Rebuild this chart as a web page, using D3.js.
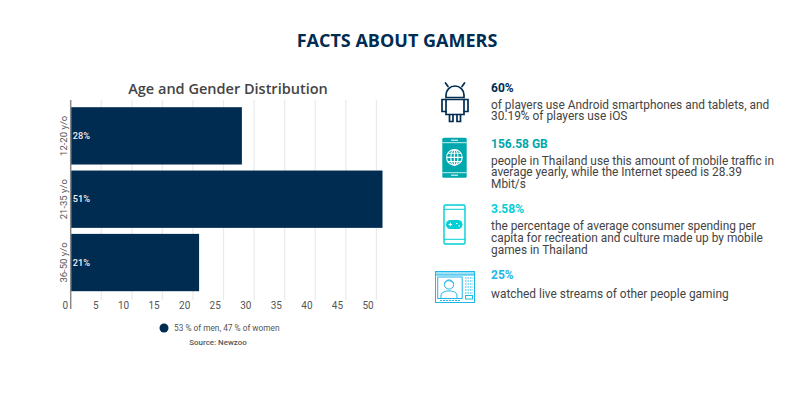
<!DOCTYPE html>
<html>
<head>
<meta charset="utf-8">
<script src="https://cdn.jsdelivr.net/npm/d3@7"></script>
<style>
  html, body { margin: 0; padding: 0; background: #fff; }
  svg { display: block; }
  text { font-family: Roboto, sans-serif; }
</style>
</head>
<body>
<svg id="chart" width="800" height="416"></svg>
<script>
const ageGroups = ["12-20 y/o", "21-35 y/o", "36-50 y/o"];
const shares = [28, 51, 21];
const shareLabels = ["28%", "51%", "21%"];
const xTicks = [0, 5, 10, 15, 20, 25, 30, 35, 40, 45, 50];
const factHeads = ["60%", "156.58 GB", "3.58%", "25%"];
const factColors = ["#002c52", "#00a7ad", "#00cfd8", "#1fb6e8"];
const factLines = [
  ["of players use Android smartphones and tablets, and", "30.19% of players use iOS"],
  ["people in Thailand use this amount of mobile traffic in", "average yearly, while the Internet speed is 28.39", "Mbit/s"],
  ["the percentage of average consumer spending per", "capita for recreation and culture made up by mobile", "games in Thailand"],
  ["watched live streams of other people gaming"]
];

const navy = "#002c52";
const svg = d3.select("#chart");

svg.append("text")
  .attr("x", 397).attr("y", 47)
  .attr("text-anchor", "middle")
  .attr("font-size", 18).attr("font-weight", 700)
  .style("font-family", "'Open Sans', sans-serif")
  .attr("fill", navy)
  .text("FACTS ABOUT GAMERS");

// bar chart
const x = d3.scaleLinear().domain([0, 51]).range([70.7, 382.5]);
const y = d3.scaleBand().domain(ageGroups).range([100.7, 297.7]).paddingInner(0.095).paddingOuter(0.1026);

svg.append("text")
  .attr("x", 228).attr("y", 94)
  .attr("text-anchor", "middle")
  .attr("font-size", 14.5).attr("font-weight", 600)
  .style("font-family", "'Open Sans', sans-serif")
  .attr("fill", "#444")
  .text("Age and Gender Distribution");

svg.append("g").selectAll("line")
  .data(xTicks.slice(1))
  .join("line")
  .attr("x1", d => x(d)).attr("x2", d => x(d))
  .attr("y1", 100).attr("y2", 300)
  .attr("stroke", "#eaeaea").attr("stroke-width", 1.2);

const rows = ageGroups.map((g, i) => ({ g, v: shares[i], label: shareLabels[i] }));

svg.append("g").selectAll("rect")
  .data(rows)
  .join("rect")
  .attr("x", x(0))
  .attr("y", d => y(d.g))
  .attr("width", d => x(d.v) - x(0))
  .attr("height", y.bandwidth())
  .attr("fill", navy);

svg.append("g").selectAll("text")
  .data(rows)
  .join("text")
  .attr("x", x(0) + 2)
  .attr("y", d => y(d.g) + y.bandwidth() / 2 + 3)
  .attr("font-size", 9.2).attr("font-weight", 500)
  .attr("fill", "#f2f2f2")
  .text(d => d.label);

// axis line runs a bit past the plot, through the tick labels
svg.append("line")
  .attr("x1", x(0)).attr("x2", x(0))
  .attr("y1", 100).attr("y2", 309)
  .attr("stroke", "#888").attr("stroke-width", 1.5);

svg.append("g").selectAll("text")
  .data(xTicks)
  .join("text")
  .attr("x", d => x(d) - 2.7)
  .attr("y", 308.5)
  .attr("text-anchor", "end")
  .attr("font-size", 10)
  .attr("fill", "#555")
  .text(d => d);

svg.append("g").selectAll("text")
  .data(ageGroups)
  .join("text")
  .attr("transform", d => `translate(66.5,${y(d) + y.bandwidth() / 2}) rotate(-90)`)
  .attr("text-anchor", "middle")
  .attr("font-size", 9.5)
  .attr("fill", "#555")
  .text(d => d);

// legend
svg.append("circle").attr("cx", 164).attr("cy", 328).attr("r", 4.5).attr("fill", navy);
svg.append("text").attr("x", 174).attr("y", 331)
  .attr("font-size", 8.3).attr("fill", "#555")
  .text("53 % of men, 47 % of women");
svg.append("text").attr("x", 218).attr("y", 345)
  .attr("text-anchor", "middle")
  .attr("font-size", 7.9).attr("font-weight", 500).attr("fill", "#555")
  .text("Source: Newzoo");

// right column
const headY = [91.5, 147.5, 213, 279];
const bodyOffset = [17, 17, 17, 19];
factHeads.forEach((h, i) => {
  svg.append("text").attr("x", 491).attr("y", headY[i])
    .attr("font-size", 12).attr("font-weight", 700)
    .attr("fill", factColors[i])
    .text(h);
  svg.append("text").attr("y", headY[i] + bodyOffset[i])
    .attr("font-size", 11.9)
    .attr("fill", "#444")
    .selectAll("tspan")
    .data(factLines[i])
    .join("tspan")
    .attr("x", 491)
    .attr("dy", (d, j) => j ? 11.8 : 0)
    .text(d => d);
});

// android icon
const droid = svg.append("g").attr("fill", "none").attr("stroke", navy)
  .attr("stroke-width", 1.7).attr("stroke-linecap", "round");
droid.append("path").attr("d", "M446 97.5v-2.5a9 9 0 0 1 18 0v2.5z");
droid.append("path").attr("d", "M448 86.5l-2.5-3.5M462 86.5l2.5-3.5");
droid.append("path").attr("d", "M446 99.5h18v15h-18z");
droid.append("path").attr("d", "M446 99.5h-4v12h4M464 99.5h4v12h-4");
droid.append("path").attr("d", "M449.5 114.5v7h3.5v-7M457 114.5v7h3.5v-7");

// phone with globe
const teal = "#00a7ad";
const phone = svg.append("g");
phone.append("rect").attr("x", 442.3).attr("y", 137.7).attr("width", 24.4).attr("height", 40).attr("rx", 1.5).attr("fill", teal);
phone.append("path").attr("d", "M442.3 142.7h24.4M442.3 172.7h24.4").attr("stroke", "#fff").attr("stroke-width", 0.8);
phone.append("path").attr("d", "M451 140.2h7M451 175.2h7").attr("stroke", "#fff").attr("stroke-width", 1);
const globe = phone.append("g").attr("fill", "none").attr("stroke", "#fff").attr("stroke-width", 1.1);
globe.append("circle").attr("cx", 454.4).attr("cy", 157.4).attr("r", 7.8);
globe.append("ellipse").attr("cx", 454.4).attr("cy", 157.4).attr("rx", 3.6).attr("ry", 7.8);
globe.append("path").attr("d", "M446.6 157.4h15.6M447.6 153.2h13.6M447.6 161.6h13.6M454.4 149.6v15.6");

// phone with gamepad
const cyan = "#00cfd8";
const pad = svg.append("g");
pad.append("rect").attr("x", 444).attr("y", 205).attr("width", 21).attr("height", 39).attr("rx", 1.5)
  .attr("fill", "none").attr("stroke", cyan).attr("stroke-width", 1.4);
pad.append("path").attr("d", "M444 209.3h21M444 239.3h21").attr("stroke", cyan).attr("stroke-width", 1);
pad.append("rect").attr("x", 446).attr("y", 220).attr("width", 16.5).attr("height", 9).attr("rx", 4.5).attr("fill", cyan);
pad.append("path").attr("d", "M448.5 224.5h3.6M450.3 222.7v3.6M456 223.5h1.5M458.5 225.8h1.5").attr("stroke", "#fff").attr("stroke-width", 1);

// monitor with streamer
const sky = "#1fb6e8";
const mon = svg.append("g").attr("fill", "none").attr("stroke", sky).attr("stroke-width", 1);
mon.append("rect").attr("x", 435.5).attr("y", 271.5).attr("width", 39).attr("height", 31);
mon.append("rect").attr("x", 435.5).attr("y", 271.5).attr("width", 39).attr("height", 3.5).attr("fill", "#9fe2f6");
mon.append("rect").attr("x", 437.7).attr("y", 277).attr("width", 24.5).attr("height", 21.5);
mon.append("circle").attr("cx", 449).attr("cy", 284.5).attr("r", 4.6);
mon.append("path").attr("d", "M444.5 283c2-3 6-3 9 0");
mon.append("path").attr("d", "M441 298.5v-3.5c0-2.5 4-3.5 5.5-4h5c1.5 .5 5.5 1.5 5.5 4v3.5");
mon.append("path").attr("d", "M440 300.5h20").attr("stroke-dasharray", "2 1");
mon.append("path").attr("d", "M465 278h8M465 281h8M465 284h8M465 287h8M465 290h8M465 293h8").attr("stroke-dasharray", "1.5 1");
mon.append("rect").attr("x", 465.5).attr("y", 295.5).attr("width", 7).attr("height", 3.5);
</script>
</body>
</html>
